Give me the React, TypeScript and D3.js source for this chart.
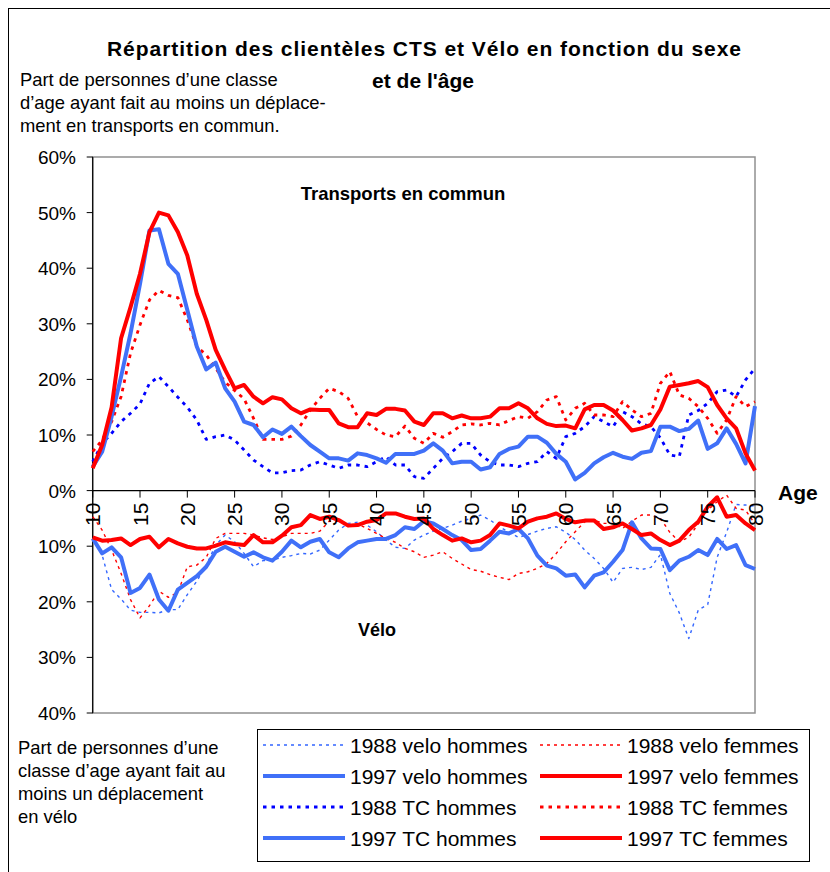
import * as d3 from "d3";

// ages 10..80, one point per year
const ages = d3.range(10, 81);
const xTicks = [10, 15, 20, 25, 30, 35, 40, 45, 50, 55, 60, 65, 70, 75, 80];
const yTicks = [60, 50, 40, 30, 20, 10, 0, -10, -20, -30, -40];

// velo values are plotted downwards (below 0)
const veloHommes88 = [
  8.6, 11.6, 17.8, 19.5, 21.5, 21.9, 21.9, 22, 21.4, 21.4, 18.7, 16.3, 13.4, 9.8, 8, 9.2, 11.3, 13.7, 12.6, 12.5,
  12, 11.7, 11.3, 11.4, 10.7, 8.9, 7.1, 5.9, 5.7, 6.2, 7.4, 8.9, 10.2, 10.4, 8.9, 8, 7.3, 6.8, 6.2, 5.5,
  5, 4.4, 5.3, 6.5, 7.5, 8.4, 7.9, 7.3, 6.8, 6.5, 7.5, 8.8, 10.7, 12.2, 14, 16.5, 14, 13.8, 14.2, 13.8,
  11.5, 18.5, 22, 26.6, 21.5, 20.5, 12, 7.5, 2.5, 2.6, 2.8,
];
const veloFemmes88 = [
  4.7, 7.1, 10.7, 14.9, 19.6, 22.9, 20.7, 18.1, 19.2, 18.3, 13.7, 13.4, 12, 8.6, 7.7, 7.7, 7.7, 8, 8.5, 8.8,
  8.3, 7.7, 7.7, 7.7, 7.3, 5.5, 5.5, 6.3, 6, 6.8, 7.7, 8.6, 9.3, 10.4, 11, 12, 11.6, 11, 12.2, 13.2,
  14.2, 14.5, 15.1, 15.6, 16, 14.9, 14.6, 14, 13.1, 11.3, 9.2, 7.4, 5.6, 5.3, 5.9, 5.9, 6.8, 5.5, 4.4, 4.4,
  5, 7.5, 9.2, 8.4, 6, 3.5, 2, 0.8, 3.2, 3.5, 6,
];
const veloHommes97 = [
  8.6, 11.3, 10.2, 12, 18.4, 17.5, 15.1, 19.6, 21.6, 17.8, 16.6, 15.4, 13.7, 11, 10.1, 11, 11.9, 11.1, 12, 12.6,
  11, 9, 10.2, 9.2, 8.7, 11.1, 12, 10.4, 9.3, 9, 8.7, 8.7, 8, 6.6, 6.9, 5.5, 5.9, 6.9, 8, 8.9,
  10.7, 10.5, 9, 7.4, 7.7, 6.9, 8.6, 11.7, 13.5, 14, 15.3, 15.1, 17.4, 15.3, 14.7, 12.8, 10.7, 5.7, 8.6, 10.4,
  10.5, 14.3, 12.6, 11.9, 10.7, 11.6, 8.7, 10.5, 9.8, 13.4, 14.1,
];
const veloFemmes97 = [
  8.4, 9, 8.9, 8.6, 9.8, 8.7, 8.3, 10.2, 8.7, 9.5, 10.1, 10.4, 10.4, 9.9, 9.3, 9.6, 9.8, 8, 9.3, 9.3,
  8.1, 6.6, 6.2, 4.4, 5.1, 4.7, 5.3, 6.3, 6.2, 5.6, 5.3, 4.1, 4.1, 4.7, 5.1, 5, 6.9, 8, 9, 8.6,
  9.3, 9, 8, 5.9, 6.3, 6.8, 5.6, 5, 4.7, 4.1, 5.1, 5.7, 5.4, 5.4, 6.9, 6.6, 5.9, 6.9, 8, 7.7,
  8.9, 9.8, 9, 7.1, 5.6, 2.9, 1.2, 4.7, 4.4, 5.9, 7.1,
];
const tcHommes88 = [
  5.2, 8.5, 10.3, 12.4, 13.9, 15.6, 19.3, 20.5, 18.7, 16.8, 15, 12.7, 9.2, 9.7, 10, 9.1, 7.3, 5.5, 4.3, 3.2,
  3.2, 3.6, 3.7, 4.6, 5.2, 4.6, 4, 4.6, 4.6, 4.3, 5.2, 6.1, 4.6, 4.6, 2.5, 2.2, 4, 5.8, 7, 8.5,
  8.5, 6.4, 5.2, 4.6, 4.6, 4.3, 4.9, 5.2, 7, 5.8, 9.7, 10.3, 11.5, 13.3, 12.4, 11.5, 14.2, 13.3, 12, 11.5,
  9.5, 6.4, 6.1, 13.6, 14.4, 15.7, 17.8, 18.1, 16.9, 19.9, 22,
];
const tcFemmes88 = [
  7, 9.1, 12.4, 16.9, 24.7, 29.8, 34.3, 36, 35.1, 34.7, 30.7, 25.9, 24.4, 22, 19.5, 18, 16.5, 13, 9.2, 9.2,
  9.2, 9.8, 11.8, 14.5, 16.6, 18.4, 17.8, 16.6, 13.3, 12.2, 11, 10, 9.7, 11.6, 9.4, 8.5, 10.3, 9.6, 10.6, 11.8,
  12, 11.8, 12.1, 11.8, 12.6, 13.3, 13, 14.2, 16.3, 16.9, 12.7, 14.8, 15.7, 13.6, 13.6, 13.3, 16, 14.5, 13.3, 13.9,
  19.3, 21.4, 17.2, 16.6, 15.1, 13, 10.3, 12.7, 16.9, 15.1, 16,
];
const tcHommes97 = [
  4.3, 7, 13.3, 20.5, 28.3, 37.2, 46.8, 47, 40.8, 39, 32.5, 25.9, 21.8, 23, 18.4, 16, 12.4, 11.8, 9.6, 11,
  10.2, 11.5, 9.8, 8.2, 7, 5.8, 5.8, 5.4, 6.7, 6.4, 5.8, 5, 6.6, 6.6, 6.6, 7.2, 8.5, 7.2, 4.9, 5.2,
  5.2, 3.8, 4.2, 6.6, 7.5, 7.9, 9.7, 9.7, 8.6, 6.6, 5.2, 2, 3.2, 4.9, 6, 6.8, 6.1, 5.7, 6.8, 7.1,
  11.5, 11.5, 10.7, 11.1, 12.6, 7.5, 8.5, 11.2, 8.4, 4.9, 15.2,
];
const tcFemmes97 = [
  4, 8.2, 15, 27.4, 33, 39, 46.5, 50, 49.5, 46.5, 42.3, 35.4, 30.7, 25.3, 21.7, 18.4, 19, 16.9, 15.7, 16.8,
  16.4, 14.8, 13.9, 14.6, 14.5, 14.5, 12.1, 11.4, 11.4, 13.9, 13.6, 14.7, 14.7, 14.4, 12.4, 11.8, 13.9, 13.9, 13, 13.5,
  13, 13, 13.3, 14.8, 14.8, 15.7, 14.8, 13, 12, 11.6, 11.7, 11.2, 14.6, 15.4, 15.4, 14.4, 12.7, 10.8, 11.2, 11.8,
  14.6, 18.7, 19, 19.3, 19.7, 18.6, 15.4, 13, 11.2, 6.7, 3.6,
];

const BLUE = "#4070f8";
const RED = "#ff0000";

const series = [
  { name: "1988 velo hommes", values: veloHommes88, sign: -1, color: "#3366ff", width: 1.4, dash: "3,4" },
  { name: "1988 velo femmes", values: veloFemmes88, sign: -1, color: RED, width: 1.4, dash: "3,4" },
  { name: "1997 velo hommes", values: veloHommes97, sign: -1, color: BLUE, width: 4, dash: "" },
  { name: "1997 velo femmes", values: veloFemmes97, sign: -1, color: RED, width: 4, dash: "" },
  { name: "1988 TC hommes", values: tcHommes88, sign: 1, color: "#0000ff", width: 2.8, dash: "3.5,5" },
  { name: "1988 TC femmes", values: tcFemmes88, sign: 1, color: RED, width: 2.8, dash: "3.5,5" },
  { name: "1997 TC hommes", values: tcHommes97, sign: 1, color: BLUE, width: 4, dash: "" },
  { name: "1997 TC femmes", values: tcFemmes97, sign: 1, color: RED, width: 4, dash: "" },
];

const font = "'Liberation Sans', Arial, sans-serif";

export default function App() {
  const left = 92.7, right = 755, top = 157, bottom = 713;
  const x = d3.scaleLinear().domain([10, 80]).range([left, right]);
  const y = d3.scaleLinear().domain([-40, 60]).range([bottom, top]);
  const y0 = y(0);

  const line = d3
    .line<number>()
    .x((_, i) => x(ages[i]))
    .y((d) => y(d));

  return (
    <svg
      width={830}
      height={872}
      style={{ position: "absolute", left: 0, top: 0, display: "block", background: "#fff" }}
      fontFamily={font}
    >
      <rect x={8.5} y={8.5} width={900} height={900} fill="#fff" stroke="#000" strokeWidth={1} />

      {/* title */}
      <text x={424} y={56} textAnchor="middle" fontSize={21} fontWeight="bold" textLength={634} lengthAdjust="spacing">
        Répartition des clientèles CTS et Vélo en fonction du sexe
      </text>
      <text x={423} y={88} textAnchor="middle" fontSize={21} fontWeight="bold">
        et de l'âge
      </text>

      {/* left notes */}
      <g fontSize={18.4}>
        <text x={20} y={86}>Part de personnes d’une classe</text>
        <text x={20} y={109}>d’age ayant fait au moins un déplace-</text>
        <text x={20} y={132}>ment en transports en commun.</text>
      </g>
      <g fontSize={18.4}>
        <text x={18} y={754}>Part de personnes d’une</text>
        <text x={18} y={777}>classe d’age ayant fait au</text>
        <text x={18} y={800}>moins un déplacement</text>
        <text x={18} y={823}>en vélo</text>
      </g>

      {/* plot frame */}
      <rect x={left} y={top} width={right - left} height={bottom - top} fill="#fff" stroke="#909090" strokeWidth={1.5} />
      <line x1={left} x2={left} y1={top} y2={bottom} stroke="#000" strokeWidth={1.2} />

      {/* y axis */}
      {yTicks.map((t) => (
        <g key={t}>
          <line x1={left - 6} x2={left} y1={y(t)} y2={y(t)} stroke="#000" />
          <text x={76} y={y(t) + 7} textAnchor="end" fontSize={19}>
            {Math.abs(t)}%
          </text>
        </g>
      ))}

      {/* series */}
      {series.map((s) => (
        <path
          key={s.name}
          d={line(s.values.map((v) => v * s.sign)) || ""}
          fill="none"
          stroke={s.color}
          strokeWidth={s.width}
          strokeDasharray={s.dash || undefined}
          strokeLinejoin="round"
        />
      ))}

      {/* x axis at 0 */}
      <line x1={left} x2={right} y1={y0} y2={y0} stroke="#000" strokeWidth={1.2} />
      {xTicks.map((t) => (
        <g key={t}>
          <line x1={x(t)} x2={x(t)} y1={y0} y2={y0 + 7} stroke="#000" />
          <text
            transform={`translate(${x(t)},${y0 + 12}) rotate(-90)`}
            textAnchor="end"
            dy="0.36em"
            fontSize={21}
          >
            {t}
          </text>
        </g>
      ))}
      <text x={778} y={500} fontSize={21} fontWeight="bold">Age</text>

      <text x={403} y={200} textAnchor="middle" fontSize={18.5} fontWeight="bold">Transports en commun</text>
      <text x={377} y={636} textAnchor="middle" fontSize={18} fontWeight="bold">Vélo</text>

      {/* legend */}
      <rect x={257.5} y={729.5} width={552} height={132} fill="#fff" stroke="#000" strokeWidth={1} />
      {series.map((s, i) => {
        const col = i % 2;
        const row = Math.floor(i / 2);
        const cy = [745, 776, 807, 838][row];
        const lx = col === 0 ? 263 : 540;
        const tx = col === 0 ? 350 : 627;
        return (
          <g key={s.name}>
            <line
              x1={lx}
              x2={lx + 82}
              y1={cy}
              y2={cy}
              stroke={s.color}
              strokeWidth={s.width}
              strokeDasharray={s.dash || undefined}
            />
            <text x={tx} y={cy + 7.5} fontSize={21}>
              {s.name}
            </text>
          </g>
        );
      })}
    </svg>
  );
}
